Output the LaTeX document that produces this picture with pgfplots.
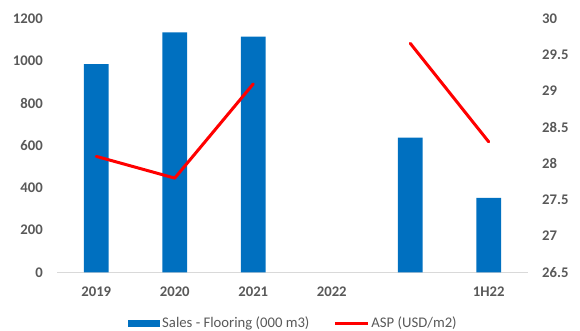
\documentclass[border=0pt]{standalone}
\usepackage{pgfplots}
\pgfplotsset{compat=1.18}
\usepackage{fontspec}
\setmainfont{Carlito}

\definecolor{barblue}{HTML}{0070C0}
\definecolor{aspred}{HTML}{FF0000}
\definecolor{txtgray}{HTML}{595959}
\definecolor{axgray}{HTML}{D9D9D9}

\pgfplotstableread{
x sales asp
0 985  28.1
1 1135 27.8
2 1115 29.1
3 nan  nan
4 637  29.66
5 352  28.3
}\flooringdata

\newcommand{\lblfont}{\fontsize{14.7}{16}\selectfont}

\pgfplotsset{
  common/.style={
    scale only axis, width=471pt, height=253.6pt,
    at={(0pt,0pt)}, anchor=south west,
    xmin=-0.5, xmax=5.5,
    major tick length=0pt,
    tick label style={font=\lblfont\bfseries, text=txtgray},
  }
}

\begin{document}
\begin{tikzpicture}
\useasboundingbox (-57pt,-58.7pt) rectangle (523pt,272.3pt);

\begin{axis}[common,
  ymin=0, ymax=1200,
  ytick={0,200,400,600,800,1000,1200},
  yticklabels={0,200,400,600,800,1000,1200},
  xtick={0,...,5}, xticklabels={2019,2020,2021,2022,{},1H22},
  axis x line*=bottom, axis y line*=left,
  x axis line style={axgray, line width=1pt, -},
  y axis line style={draw=none},
  xticklabel style={anchor=base, inner sep=0pt, yshift=-24.5pt},
  yticklabel style={anchor=east, inner sep=0pt, xshift=-14pt},
  legend columns=2,
  legend style={at={(0.502,-0.201)}, anchor=center, draw=none,
    font=\lblfont, text=txtgray,
    /tikz/every even column/.append style={column sep=22pt}},
]
\addplot[ybar, bar width=0.317, fill=barblue, draw=none,
  legend image code/.code={\fill[barblue] (0pt,-3.6pt) rectangle (32pt,3.6pt);}]
  table[x=x, y=sales]{\flooringdata};
\addlegendentry{Sales - Flooring (000 m3)}
\addlegendimage{aspred, line width=3pt,
  legend image code/.code={\draw[aspred, line width=3pt] (0pt,0pt) -- (33pt,0pt);}}
\addlegendentry{ASP (USD/m2)}
\end{axis}

\begin{axis}[common,
  ymin=26.5, ymax=30,
  ytick={26.5,27,27.5,28,28.5,29,29.5,30},
  yticklabels={26.5,27,27.5,28,28.5,29,29.5,30},
  axis y line*=right, axis x line=none,
  y axis line style={draw=none},
  yticklabel style={anchor=west, inner sep=0pt, xshift=14pt},
  unbounded coords=jump,
]
\addplot[aspred, line width=3pt, line cap=round, line join=round]
  table[x=x, y=asp]{\flooringdata};
\end{axis}
\end{tikzpicture}
\end{document}
